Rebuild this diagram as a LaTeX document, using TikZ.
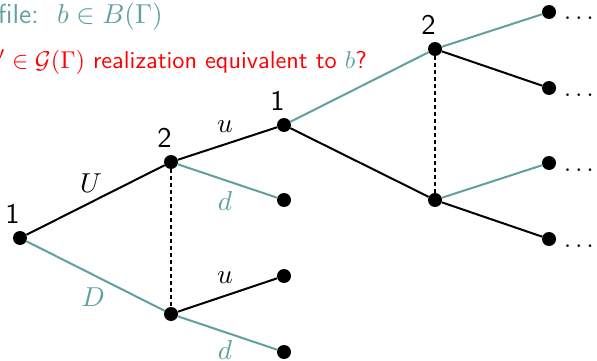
\RequirePackage{fix-cm}
\documentclass[tikz,border=0pt]{standalone}
\definecolor{tealc}{RGB}{95,160,160}
\newcommand{\bigtxt}[2]{\scalebox{#1}{\fontsize{10.95}{13}\selectfont #2}}
\begin{document}
\begin{tikzpicture}[x=1pt,y=-1pt,
  dot/.style={circle, fill=black, inner sep=0pt, minimum size=14pt},
  edg/.style={line width=2pt, draw=black},
  tedg/.style={line width=2pt, draw=tealc},
  info/.style={line width=2.3pt, dash pattern=on 3.5pt off 3.5pt},
  plbl/.style={inner sep=0pt},
  elbl/.style={inner sep=0pt},
  more/.style={inner sep=0pt, anchor=base west}
]
\useasboundingbox (0,0) rectangle (597,361);
\clip (0,0) rectangle (597,361);

% header texts
\node[anchor=base east, inner sep=0pt, text=tealc] (prof) at (163,24) {\bigtxt{2.5}{\sffamily Profile:\ \ $b\in B(\Gamma)$}};
\node[anchor=base east, inner sep=0pt, text=red] (quest) at (367,68) {\bigtxt{2.22}{\sffamily $\exists\, g'\in\mathcal{G}(\Gamma)$\ realization equivalent to \textcolor{tealc}{$b$}?}};

% nodes
\node[dot] (r) at (20,238) {};
\node[dot] (a) at (171,162) {};
\node[dot] (b) at (171,314) {};
\node[dot] (c) at (284,125) {};
\node[dot] (ad) at (284,200) {};
\node[dot] (bu) at (284,276) {};
\node[dot] (bd) at (284,352) {};
\node[dot] (e) at (435,49) {};
\node[dot] (f) at (435,200) {};
\node[dot] (e1) at (549,12) {};
\node[dot] (e2) at (549,88) {};
\node[dot] (f1) at (549,163) {};
\node[dot] (f2) at (549,239) {};

% player labels
\node[plbl] (lr) at (12.5,214) {\bigtxt{2.6}{\sffamily 1}};
\node[plbl] (la) at (164.5,138) {\bigtxt{2.6}{\sffamily 2}};
\node[plbl] (lc) at (277.5,101) {\bigtxt{2.6}{\sffamily 1}};
\node[plbl] (le) at (428.5,25) {\bigtxt{2.6}{\sffamily 2}};

% edges
\draw[edg] (r) -- (a);
\draw[tedg] (r) -- (b);
\draw[edg] (a) -- (c);
\draw[tedg] (a) -- (ad);
\draw[edg] (b) -- (bu);
\draw[tedg] (b) -- (bd);
\draw[tedg] (c) -- (e);
\draw[edg] (c) -- (f);
\draw[tedg] (e) -- (e1);
\draw[edg] (e) -- (e2);
\draw[tedg] (f) -- (f1);
\draw[edg] (f) -- (f2);

% information sets
\draw[info] (a) -- (b);
\draw[info] (e) -- (f);

% edge labels
\node[elbl] (lU) at (91,183) {\bigtxt{2.5}{$U$}};
\node[elbl, text=tealc] (lD) at (93,297) {\bigtxt{2.5}{$D$}};
\node[elbl] (lu1) at (225,127) {\bigtxt{2.5}{$u$}};
\node[elbl, text=tealc] (ld1) at (225,201) {\bigtxt{2.5}{$d$}};
\node[elbl] (lu2) at (225,278) {\bigtxt{2.5}{$u$}};
\node[elbl, text=tealc] (ld2) at (225,350) {\bigtxt{2.5}{$d$}};

% continuation dots
\node[more] (m1) at (564,20) {\bigtxt{2.3}{$\ldots$}};
\node[more] (m2) at (564,96) {\bigtxt{2.3}{$\ldots$}};
\node[more] (m3) at (564,171) {\bigtxt{2.3}{$\ldots$}};
\node[more] (m4) at (564,247) {\bigtxt{2.3}{$\ldots$}};
\end{tikzpicture}
\end{document}
